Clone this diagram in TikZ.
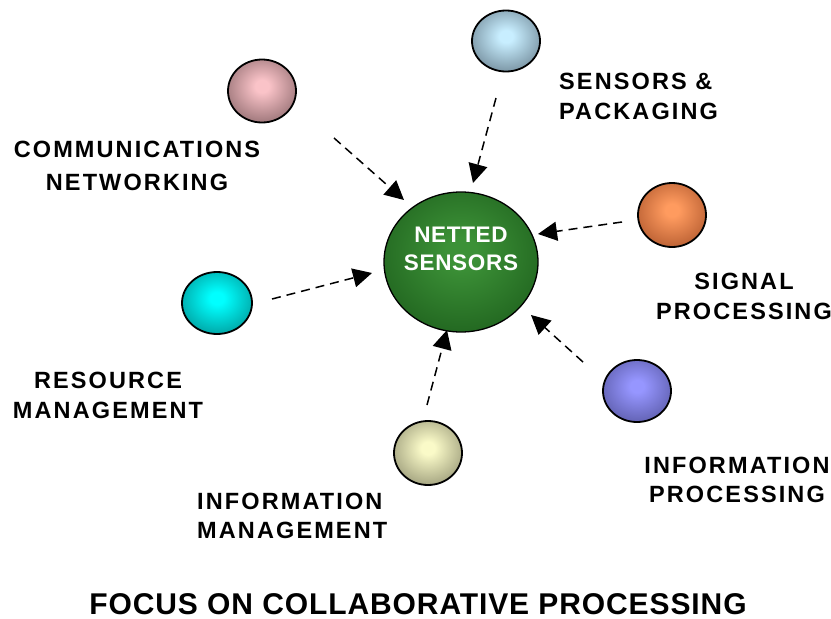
\documentclass[tikz,border=0pt]{standalone}
\usepackage{fontspec}
\setmainfont{Liberation Sans}
\newfontfamily\lblfont{Liberation Sans}[LetterSpace=9]
\newfontfamily\ctrfont{Liberation Sans}[LetterSpace=3]
\newfontfamily\ttlfont{Liberation Sans}[LetterSpace=3]
\usetikzlibrary{shapes.geometric,arrows.meta}
\pgfdeclareradialshading[sphin,sphout]{sphere}{\pgfpoint{0bp}{4bp}}{color(0bp)=(sphin); color(5bp)=(sphin); color(42bp)=(sphout); color(100bp)=(sphout)}
\definecolor{sphin}{RGB}{255,255,255}
\definecolor{sphout}{RGB}{0,0,0}
\tikzset{
  sph/.style n args={4}{ellipse, draw=black, line width=1.8pt, inner sep=0pt,
    minimum width=#1, minimum height=#2,
    /utils/exec={\colorlet{sphin}{#3}\colorlet{sphout}{#4}}, shading=sphere},
  lbl/.style={inner sep=0pt, font=\lblfont\bfseries\fontsize{23.5}{30}\selectfont},
  conn/.style={line width=1.5pt, dash pattern=on 9pt off 6pt, -{Triangle[length=19pt,width=19pt]}}
}
\definecolor{cIn}{RGB}{250,195,200}\definecolor{cOut}{RGB}{105,75,78}
\definecolor{sIn}{RGB}{200,238,255}\definecolor{sOut}{RGB}{78,98,112}
\definecolor{gIn}{RGB}{255,155,95}\definecolor{gOut}{RGB}{150,65,28}
\definecolor{rIn}{RGB}{0,255,255}\definecolor{rOut}{RGB}{0,115,115}
\definecolor{pIn}{RGB}{150,150,255}\definecolor{pOut}{RGB}{68,68,135}
\definecolor{mIn}{RGB}{250,250,200}\definecolor{mOut}{RGB}{115,115,88}
\definecolor{nIn}{RGB}{60,145,55}\definecolor{nOut}{RGB}{20,80,20}
\begin{document}
\begin{tikzpicture}[x=1pt,y=-1pt]
\useasboundingbox (0,0) rectangle (831,619);
% central
\node[sph={154pt}{140pt}{nIn}{nOut}, line width=1.3pt] (net) at (461,262) {};
\node[inner sep=0pt, text=white, align=center, font=\ctrfont\bfseries\fontsize{22.5}{28}\selectfont] (netl) at (461,249) {NETTED\\SENSORS};
% spheres
\node[sph={68pt}{63pt}{cIn}{cOut}] (comm) at (262,91) {};
\node[sph={68pt}{61pt}{sIn}{sOut}] (sens) at (506,41) {};
\node[sph={68pt}{64pt}{gIn}{gOut}] (sig) at (672,215) {};
\node[sph={70pt}{62pt}{rIn}{rOut}] (res) at (217,303) {};
\node[sph={68pt}{62pt}{pIn}{pOut}] (iproc) at (637,391) {};
\node[sph={68pt}{64pt}{mIn}{mOut}] (imgmt) at (428,453) {};
% labels
\node[lbl, align=center, font=\lblfont\bfseries\fontsize{23.5}{33}\selectfont] (commL) at (137,166) {COMMUNICATIONS\\NETWORKING};
\node[lbl, align=left, anchor=west] (sensL) at (559,96) {SENSORS \&\\PACKAGING};
\node[lbl, align=center] (sigL) at (744,296) {SIGNAL\\PROCESSING};
\node[lbl, align=center] (resL) at (108,395) {RESOURCE\\MANAGEMENT};
\node[lbl, align=left, anchor=west, font=\lblfont\bfseries\fontsize{23.5}{29}\selectfont] (imgmtL) at (197,515.5) {INFORMATION\\MANAGEMENT};
\node[lbl, align=center, font=\lblfont\bfseries\fontsize{23.5}{28.5}\selectfont] (iprocL) at (737,480) {INFORMATION\\PROCESSING};
\node[inner sep=0pt, font=\ttlfont\bfseries\fontsize{30}{34}\selectfont] (title) at (418,604) {FOCUS ON COLLABORATIVE PROCESSING};
% connector ends
\coordinate (a1) at (334,138); \coordinate (b1) at (404,200);
\coordinate (a2) at (496,98);  \coordinate (b2) at (473,183);
\coordinate (a3) at (622,222); \coordinate (b3) at (538,234);
\coordinate (a4) at (272,299); \coordinate (b4) at (372,273);
\coordinate (a5) at (583,362); \coordinate (b5) at (531,315);
\coordinate (a6) at (427,405); \coordinate (b6) at (447,330);
\draw[conn] (a1) -- (b1);
\draw[conn] (a2) -- (b2);
\draw[conn] (a3) -- (b3);
\draw[conn] (a4) -- (b4);
\draw[conn] (a5) -- (b5);
\draw[conn] (a6) -- (b6);
\end{tikzpicture}
\end{document}
